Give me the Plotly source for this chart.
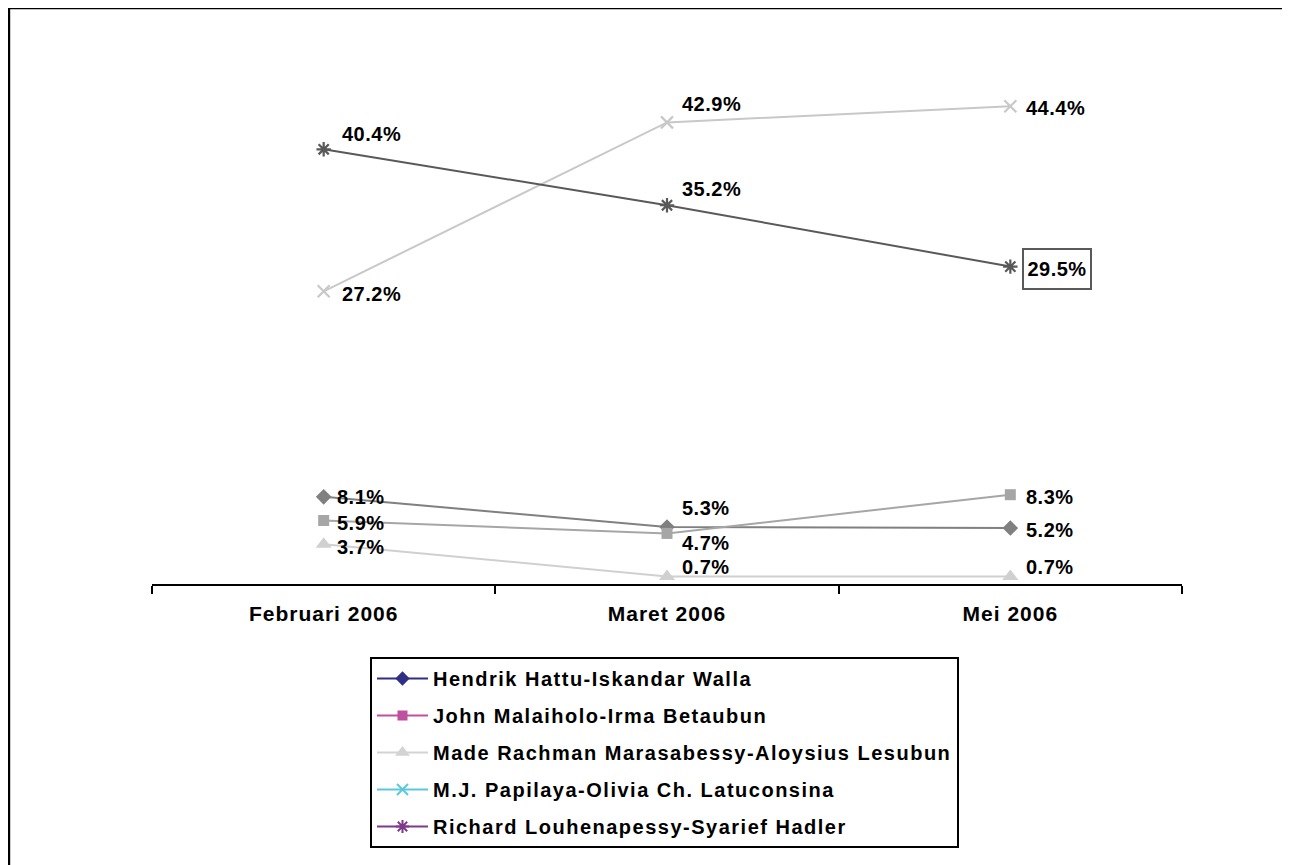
import plotly.graph_objects as go

categories = ["Februari 2006", "Maret 2006", "Mei 2006"]
series_names = [
    "Hendrik Hattu-Iskandar Walla",
    "John Malaiholo-Irma Betaubun",
    "Made Rachman Marasabessy-Aloysius Lesubun",
    "M.J. Papilaya-Olivia Ch. Latuconsina",
    "Richard Louhenapessy-Syarief Hadler",
]
hendrik = [8.1, 5.3, 5.2]
john = [5.9, 4.7, 8.3]
made = [3.7, 0.7, 0.7]
papilaya = [27.2, 42.9, 44.4]
richard = [40.4, 35.2, 29.5]
values = [hendrik, john, made, papilaya, richard]

# styles
plot_colors = ["#808080", "#a6a6a6", "#d0d0d0", "#c8c8c8", "#595959"]
legend_colors = ["#2f2f85", "#bf4fa0", "#d3d3d3", "#5bc8dc", "#7b3a8a"]
symbols = ["diamond", "square", "triangle-up", "x-thin-open", "asterisk-open"]
msizes = [12, 11, 14, 12, 12]
# label offsets (px) per series per point: (dx, dy) dy positive = down
offsets = [
    [(15, 0), (17, -19), (18, 2)],
    [(15, 2), (17, 10), (18, 2)],
    [(15, 3), (17, -9), (18, -9)],
    [(20, 3), (17, -18), (18, 2)],
    [(20, -15), (17, -16), (18, 2)],
]

FONT = "Liberation Sans, Arial, sans-serif"

def spaced(s, sp):
    return f'<span style="letter-spacing:{sp}px">{s}</span>'

fig = go.Figure()

for i, name in enumerate(series_names):
    fig.add_trace(go.Scatter(
        x=categories, y=values[i], mode="lines+markers", name=name,
        line=dict(color=plot_colors[i], width=2),
        marker=dict(symbol=symbols[i], size=msizes[i], color=plot_colors[i],
                    line=dict(color=plot_colors[i], width=2.2 if i >= 3 else 0)),
        showlegend=False, hoverinfo="x+y+name",
    ))

for i, name in enumerate(series_names):
    fig.add_trace(go.Scatter(
        x=[None], y=[None], mode="lines+markers", name=spaced(name, 1.5),
        legendgroup=f"g{i}",
        line=dict(color=legend_colors[i], width=2),
        marker=dict(symbol=symbols[i], size=msizes[i] - 1, color=legend_colors[i],
                    line=dict(color=legend_colors[i], width=2 if i >= 3 else 0)),
        showlegend=True,
    ))

for i in range(len(series_names)):
    for j, cat in enumerate(categories):
        dx, dy = offsets[i][j]
        boxed = (i == 4 and j == 2)
        if boxed:
            kw = dict(width=60, height=32, align="center", valign="middle",
                      bordercolor="#595959", borderwidth=2, borderpad=3, bgcolor="white")
        else:
            kw = dict(bordercolor="rgba(0,0,0,0)", borderwidth=0, borderpad=1,
                      bgcolor="rgba(0,0,0,0)")
        fig.add_annotation(
            x=cat, y=values[i][j], xref="x", yref="y",
            text=spaced(f"{values[i][j]:.1f}%", 0.5), showarrow=False,
            xanchor="left", yanchor="middle",
            xshift=(12 if boxed else dx - 3), yshift=-dy,
            font=dict(family=FONT, size=20, color="black", weight="bold"),
            **kw,
        )

# page offset of 8px (body margin): reference page coords -> figure coords
OFF = 8
W, H = 1290 - OFF, 865 - OFF
L, R, T, B = 152 - OFF, 1182 - OFF, 46 - OFF, 584 - OFF

def px_x(p):
    return (p - L) / (R - L)
def px_y(p):
    return (B - p) / (B - T)

# outer frame (at figure edge, extending off the page right/bottom)
fig.add_shape(type="rect", xref="paper", yref="paper",
              x0=px_x(0.9), x1=px_x(W + 20), y0=px_y(H + 20), y1=px_y(0.0),
              line=dict(color="black", width=2.6), fillcolor="rgba(0,0,0,0)", layer="below")

fig.update_layout(
    width=W, height=H,
    margin=dict(l=L, r=W - R, t=T, b=H - B),
    paper_bgcolor="white", plot_bgcolor="white",
    font=dict(family=FONT, size=18, color="black"),
    showlegend=True,
    legend=dict(
        x=px_x(370 - OFF), y=px_y(657 - OFF), xanchor="left", yanchor="top",
        bordercolor="black", borderwidth=2, bgcolor="white",
        font=dict(family=FONT, size=20, color="black", weight="bold"),
        tracegroupgap=8, itemwidth=51,
    ),
    xaxis=dict(
        type="category", range=[-0.5, 2.5], showgrid=False,
        showline=True, linecolor="black", linewidth=2,
        ticks="outside", ticklen=8, tickwidth=2, tickcolor="black",
        tickson="boundaries",
        tickvals=categories, ticktext=[spaced(c, 1.0) for c in categories],
        tickfont=dict(family=FONT, size=21, color="black", weight="bold"),
        ticklabelstandoff=10,
        zeroline=False,
    ),
    yaxis=dict(range=[0, 50], visible=False, showgrid=False, zeroline=False),
)

fig.write_html("out.html")
